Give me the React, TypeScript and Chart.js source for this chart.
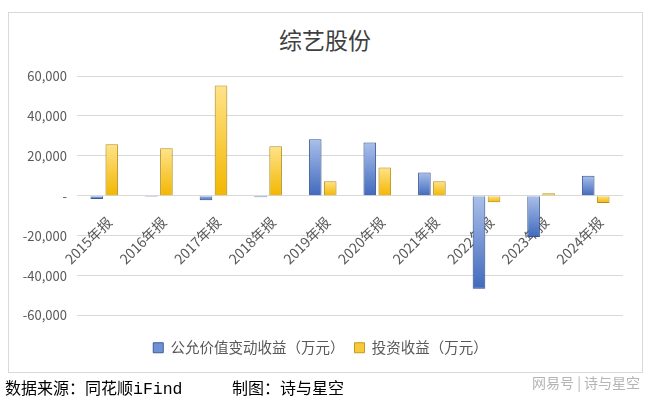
import React, { useEffect, useRef } from "react";
import { Chart, registerables } from "chart.js";

Chart.register(...registerables);

const title = "综艺股份";
const categories = ["2015年报", "2016年报", "2017年报", "2018年报", "2019年报", "2020年报", "2021年报", "2022年报", "2023年报", "2024年报"];
const fairValueGain = [-1600, -500, -2200, -800, 28300, 26700, 11700, -46600, -20700, 10000];
const investmentIncome = [25800, 23800, 55300, 24800, 7300, 14200, 7300, -3300, 1200, -3600];
const seriesNames = ["公允价值变动收益（万元）", "投资收益（万元）"];
const yTicks = [-60000, -40000, -20000, 0, 20000, 40000, 60000];

const FONT = "'Noto Sans CJK SC', 'Noto Sans', sans-serif";

function barGradient(ctx: any, light: string, dark: string) {
  const chart = ctx.chart;
  const y = chart.scales?.y;
  const v = ctx.raw;
  if (!y || typeof v !== "number") return dark;
  const p1 = y.getPixelForValue(v);
  const p0 = y.getPixelForValue(0);
  const top = Math.min(p0, p1);
  const bottom = Math.max(p0, p1);
  if (bottom - top < 1) return dark;
  const g = chart.ctx.createLinearGradient(0, top, 0, bottom);
  g.addColorStop(0, light);
  g.addColorStop(1, dark);
  return g;
}

const shadowPlugin = {
  id: "barShadow",
  beforeDatasetsDraw(chart: any) {
    const c = chart.ctx;
    c.save();
    c.shadowColor = "rgba(0,0,0,0.18)";
    c.shadowBlur = 4;
    c.shadowOffsetX = 0;
    c.shadowOffsetY = 1;
  },
  afterDatasetsDraw(chart: any) {
    chart.ctx.restore();
  },
};

export default function App() {
  const ref = useRef<HTMLCanvasElement | null>(null);

  useEffect(() => {
    if (!ref.current) return;
    const chart = new Chart(ref.current, {
      type: "bar",
      data: {
        labels: categories,
        datasets: [
          {
            label: seriesNames[0],
            data: fairValueGain,
            backgroundColor: (c: any) => barGradient(c, "#aac0ea", "#4169bd"),
            borderColor: "#3a5c9c",
            borderWidth: 1,
            categoryPercentage: 0.55,
            barPercentage: 0.84,
          },
          {
            label: seriesNames[1],
            data: investmentIncome,
            backgroundColor: (c: any) => barGradient(c, "#ffe389", "#f2b700"),
            borderColor: "#c49a1c",
            borderWidth: 1,
            categoryPercentage: 0.55,
            barPercentage: 0.84,
          },
        ],
      },
      options: {
        animation: false,
        responsive: true,
        maintainAspectRatio: false,
        layout: { padding: { left: 18, right: 34, top: 76, bottom: 36 } },
        plugins: {
          tooltip: { enabled: false },
          title: { display: false },
          legend: {
            position: "bottom",
            title: { display: true, text: "", font: { size: 10 }, padding: { top: 3, bottom: 0 } },
            labels: {
              boxWidth: 10,
              boxHeight: 10,
              padding: 10,
              color: "#595959",
              font: { family: FONT, size: 14.5 },
              generateLabels: (ch: any) =>
                ch.data.datasets.map((ds: any, i: number) => ({
                  text: ds.label,
                  fillStyle: i === 0 ? "#6f92d6" : "#f7ca3c",
                  strokeStyle: i === 0 ? "#3a5c9c" : "#c49a1c",
                  lineWidth: 1,
                  fontColor: "#595959",
                  datasetIndex: i,
                  hidden: false,
                })),
            },
          },
        },
        scales: {
          x: {
            position: { y: 0 } as any,
            grid: { display: false },
            border: { display: false },
            ticks: {
              color: "#595959",
              font: { family: FONT, size: 14 },
              minRotation: 45,
              maxRotation: 45,
              autoSkip: false,
              padding: 10,
              labelOffset: 5,
            },
          },
          y: {
            min: -60000,
            max: 60000,
            afterFit: (s: any) => {
              s.width = 59;
            },
            afterBuildTicks: (s: any) => {
              s.ticks = yTicks.map((v) => ({ value: v }));
            },
            grid: { color: "#d9d9d9", drawTicks: false },
            border: { display: false },
            ticks: {
              color: "#595959",
              font: { family: FONT, size: 13 },
              padding: 10,
              callback: (v: any) => (Number(v) === 0 ? "-" : Number(v).toLocaleString("en-US")),
            },
          },
        },
      },
      plugins: [shadowPlugin],
    });
    return () => chart.destroy();
  }, []);

  return (
    <div style={{ position: "absolute", left: 0, top: 0, width: 657, height: 401, background: "#fff", overflow: "hidden" }}>
      <div
        style={{
          position: "absolute",
          left: 8,
          top: 12,
          width: 633,
          height: 359,
          border: "1px solid #d9d9d9",
          boxSizing: "content-box",
        }}
      />
      <div
        style={{
          position: "absolute",
          left: 8,
          top: 24,
          width: 634,
          textAlign: "center",
          fontFamily: FONT,
          fontSize: 23,
          lineHeight: "30px",
          color: "#404040",
          whiteSpace: "nowrap",
        }}
      >
        {title}
      </div>
      <div style={{ position: "absolute", left: 0, top: 0, width: 657, height: 401 }}>
        <canvas ref={ref} />
      </div>
      <div
        style={{
          position: "absolute",
          left: 5,
          top: 376,
          fontFamily: FONT,
          fontSize: 16,
          lineHeight: "22px",
          color: "#000",
          whiteSpace: "nowrap",
        }}
      >
        数据来源：同花顺<span style={{ fontFamily: "'Liberation Mono', monospace", fontSize: 16.5 }}>iFind</span>
      </div>
      <div
        style={{
          position: "absolute",
          left: 232,
          top: 376,
          fontFamily: FONT,
          fontSize: 16,
          lineHeight: "22px",
          color: "#000",
          whiteSpace: "nowrap",
        }}
      >
        制图：诗与星空
      </div>
      <div
        style={{
          position: "absolute",
          left: 532,
          top: 373,
          fontFamily: FONT,
          fontSize: 14,
          lineHeight: "18px",
          color: "#b4b4b4",
          whiteSpace: "nowrap",
        }}
      >
        网易号 | 诗与星空
      </div>
    </div>
  );
}
